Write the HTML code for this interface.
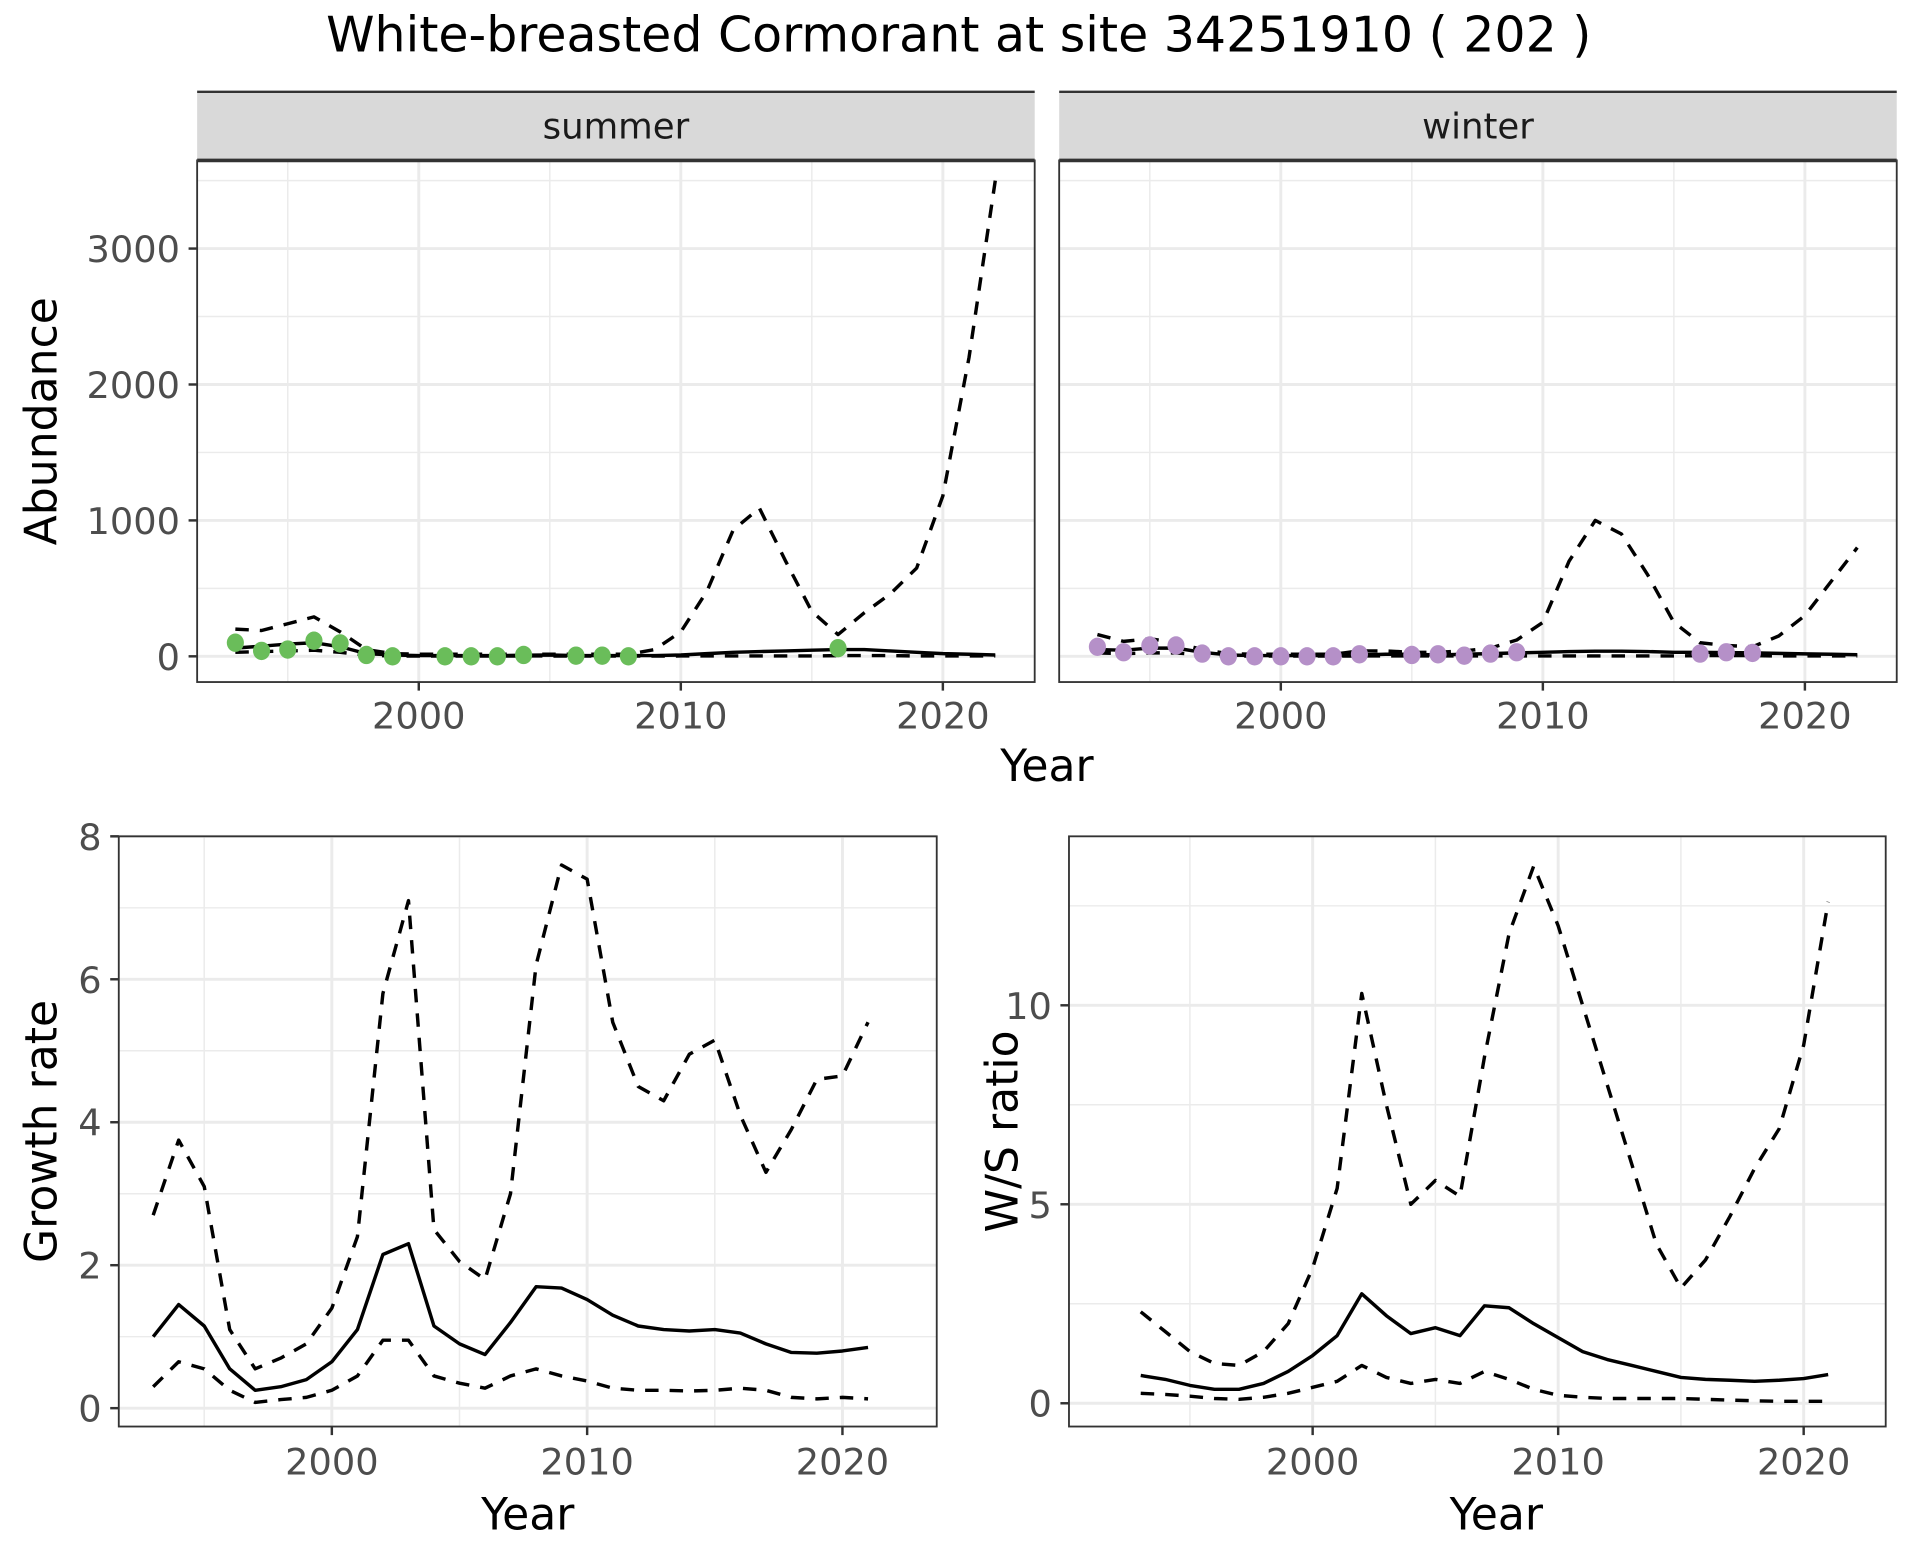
<!DOCTYPE html>
<html><head><meta charset="utf-8"><style>
html,body{margin:0;padding:0;background:#fff;}
svg{display:block;font-family:"DejaVu Sans","Liberation Sans",sans-serif;}
</style></head><body>
<svg id="chart" width="1920" height="1560" viewBox="0 0 1568 1274" xmlns="http://www.w3.org/2000/svg">
<text x="783" y="42" font-size="40" text-anchor="middle" fill="#000">White-breasted Cormorant at site 34251910 ( 202 )</text>
<g id="g"></g>
</svg>
<script>
// ---- data ----
const yearsFull = [1993,1994,1995,1996,1997,1998,1999,2000,2001,2002,2003,2004,2005,2006,2007,2008,2009,2010,2011,2012,2013,2014,2015,2016,2017,2018,2019,2020,2021,2022];
const summerUpper = [200,190,240,290,180,50,20,15,15,15,15,15,15,15,15,15,50,180,480,930,1090,700,330,160,320,460,650,1180,2200,3500];
const summerMean  = [60,75,90,100,70,20,10,5,5,5,5,8,10,5,5,5,5,10,20,30,35,40,45,50,50,40,30,20,15,10];
const summerLower = [30,35,40,45,30,8,3,2,2,2,2,3,3,2,2,2,2,3,3,3,3,3,3,5,5,5,3,3,3,3];
const summerPtYears = [1993,1994,1995,1996,1997,1998,1999,2001,2002,2003,2004,2006,2007,2008,2016];
const summerPtVals  = [100,40,50,115,95,10,0,0,0,0,10,5,5,0,60];
const winterUpper = [160,110,130,100,50,20,15,15,15,15,40,40,30,30,40,60,120,250,700,1000,900,600,250,100,80,70,150,300,550,800];
const winterMean  = [50,45,60,60,30,10,5,5,5,5,10,15,15,10,15,20,25,30,35,38,38,35,30,30,28,25,22,18,15,12];
const winterLower = [25,20,25,25,10,3,2,2,2,2,3,3,3,3,3,3,3,3,3,3,3,3,3,5,5,5,3,3,3,3];
const winterPtYears = [1993,1994,1995,1996,1997,1998,1999,2000,2001,2002,2003,2005,2006,2007,2008,2009,2016,2017,2018];
const winterPtVals  = [70,30,80,80,20,0,0,0,0,0,15,10,15,5,20,30,20,30,25];
const years2 = [1993,1994,1995,1996,1997,1998,1999,2000,2001,2002,2003,2004,2005,2006,2007,2008,2009,2010,2011,2012,2013,2014,2015,2016,2017,2018,2019,2020,2021];
const growthMean  = [1.0,1.45,1.15,0.55,0.25,0.3,0.4,0.65,1.1,2.15,2.3,1.15,0.9,0.75,1.2,1.7,1.68,1.52,1.3,1.15,1.1,1.08,1.1,1.05,0.9,0.78,0.77,0.8,0.85];
const growthUpper = [2.7,3.75,3.1,1.1,0.55,0.7,0.9,1.4,2.4,5.8,7.1,2.5,2.05,1.8,3.0,6.2,7.6,7.4,5.4,4.5,4.3,4.95,5.15,4.1,3.3,3.9,4.6,4.65,5.4];
const growthLower = [0.3,0.65,0.55,0.25,0.08,0.12,0.15,0.25,0.45,0.95,0.95,0.45,0.35,0.28,0.45,0.55,0.45,0.38,0.28,0.25,0.25,0.24,0.25,0.28,0.25,0.15,0.13,0.15,0.13];
const ratioMean  = [0.7,0.6,0.45,0.35,0.35,0.5,0.8,1.2,1.7,2.75,2.2,1.75,1.9,1.7,2.45,2.4,2.0,1.65,1.3,1.1,0.95,0.8,0.65,0.6,0.58,0.55,0.58,0.62,0.72];
const ratioUpper = [2.3,1.8,1.3,1.0,0.95,1.3,2.0,3.4,5.4,10.3,7.5,5.0,5.6,5.2,8.7,11.8,13.5,12.0,10.0,8.0,6.0,4.0,2.9,3.6,4.7,5.9,6.9,9.0,12.6];
const ratioLower = [0.25,0.22,0.18,0.12,0.1,0.15,0.25,0.4,0.55,0.95,0.65,0.5,0.6,0.5,0.8,0.6,0.35,0.2,0.15,0.12,0.12,0.12,0.12,0.1,0.08,0.06,0.05,0.05,0.05];
const xTicks = [2000,2010,2020];
const xMinor = [1995,2005,2015];
const abundTicks = [0,1000,2000,3000];
const abundMinor = [500,1500,2500,3500];
const growthTicks = [0,2,4,6,8];
const growthMinor = [1,3,5,7];
const ratioTicks = [0,5,10];
const ratioMinor = [2.5,7.5,12.5];

const NS="http://www.w3.org/2000/svg";
const G=document.getElementById('g');
function el(tag,attrs,parent,text){const e=document.createElementNS(NS,tag);for(const k in attrs)e.setAttribute(k,attrs[k]);if(text!==undefined)e.textContent=text;(parent||G).appendChild(e);return e;}

function panel(p){
  const g=el('g',{});
  
  
  const sx=v=>p.x0+(v-p.xa)/(p.xb-p.xa)*(p.x1-p.x0);
  const sy=v=>p.y0-(v-p.ya)/(p.yb-p.ya)*(p.y0-p.y1);
  const L=p.L,R=p.R,T=p.T,B=p.B;
  el('rect',{x:L,y:T,width:R-L,height:B-T,fill:'#fff'},g);
  p.xMinor.forEach(v=>el('line',{x1:sx(v),x2:sx(v),y1:T,y2:B,stroke:'#ebebeb','stroke-width':1.2},g));
  p.yMinor.forEach(v=>{const y=sy(v);if(y>T&&y<B)el('line',{x1:L,x2:R,y1:y,y2:y,stroke:'#ebebeb','stroke-width':1.2},g);});
  p.xTicks.forEach(v=>el('line',{x1:sx(v),x2:sx(v),y1:T,y2:B,stroke:'#ebebeb','stroke-width':2.4},g));
  p.yTicks.forEach(v=>el('line',{x1:L,x2:R,y1:sy(v),y2:sy(v),stroke:'#ebebeb','stroke-width':2.4},g));
  const line=(xs,ys,dash,nm)=>{const d=xs.map((x,i)=>(i?'L':'M')+sx(x).toFixed(1)+','+sy(ys[i]).toFixed(1)).join('');
    const e=el('path',{d:d,fill:'none',stroke:'#000','stroke-width':2.8,'stroke-dasharray':dash?'11,9':'none','stroke-linejoin':'round'},g);
    
    };
  line(p.xs,p.upper,true,'upper-bound-line');
  line(p.xs,p.lower,true,'lower-bound-line');
  line(p.xs,p.mean,false,'mean-line');
  if(p.pts){p.pts[0].forEach((x,i)=>{const c=el('ellipse',{cx:sx(x),cy:sy(p.pts[1][i]),rx:7,ry:7.5,fill:p.ptColor},g);
    
    });}
  el('rect',{x:L,y:T,width:R-L,height:B-T,fill:'none',stroke:'#333','stroke-width':1.5},g);
  if(p.strip){el('rect',{x:L,y:T-56,width:R-L,height:56,fill:'#d9d9d9'},g);
    el('line',{x1:L,x2:R,y1:T-56,y2:T-56,stroke:'#333','stroke-width':2},g);
    el('line',{x1:L,x2:R,y1:T,y2:T,stroke:'#333','stroke-width':3},g);
    const s=el('text',{x:(L+R)/2,y:T-18,'font-size':29,'text-anchor':'middle',fill:'#1a1a1a'},g,p.strip);
    
    }
  p.xTicks.forEach(v=>{el('line',{x1:sx(v),x2:sx(v),y1:B,y2:B+7,stroke:'#333','stroke-width':2},g);
    const t=el('text',{x:sx(v),y:B+p.xLabOff,'font-size':30,'text-anchor':'middle',fill:'#4d4d4d'},g,String(v));
    
    });
  if(p.yLabels){p.yTicks.forEach(v=>{el('line',{x1:L-7,x2:L,y1:sy(v),y2:sy(v),stroke:'#333','stroke-width':2},g);
    const t=el('text',{x:L-14,y:sy(v)+11,'font-size':30,'text-anchor':'end',fill:'#4d4d4d'},g,String(v));
    
    });}
  if(p.xTitle){const t=el('text',{x:p.xTitleX,y:p.xTitleY,'font-size':36,'text-anchor':'middle',fill:'#000'},g,p.xTitle);
    
    }
  if(p.yTitle){const t=el('text',{x:0,y:0,'font-size':36,'text-anchor':'middle',fill:'#000',transform:`translate(${p.yTitleX},${(T+B)/2}) rotate(-90)`},g,p.yTitle);
    
    }
}
// top panels
panel({name:'summer-panel',L:161,R:845,T:131,B:557,x0:342,x1:770,xa:2000,xb:2020,y0:536,y1:203,ya:0,yb:3000,
  xTicks,xMinor,yTicks:abundTicks,yMinor:abundMinor,xs:yearsFull,upper:summerUpper,mean:summerMean,lower:summerLower,
  pts:[summerPtYears,summerPtVals],ptColor:'#6abd5a',strip:'summer',yLabels:true,yTitle:'Abundance',yTitleX:46,xLabOff:38});
panel({name:'winter-panel',L:865,R:1549,T:131,B:557,x0:1046,x1:1474,xa:2000,xb:2020,y0:536,y1:203,ya:0,yb:3000,
  xTicks,xMinor,yTicks:abundTicks,yMinor:abundMinor,xs:yearsFull,upper:winterUpper,mean:winterMean,lower:winterLower,
  pts:[winterPtYears,winterPtVals],ptColor:'#b590c8',strip:'winter',yLabels:false,xLabOff:38});
const xt=el('text',{x:855,y:638,'font-size':36,'text-anchor':'middle',fill:'#000'},G,'Year');


// bottom panels
panel({name:'growth-rate-panel',L:97,R:765,T:683,B:1165,x0:271,x1:688,xa:2000,xb:2020,y0:1150,y1:683,ya:0,yb:8,
  xTicks,xMinor,yTicks:growthTicks,yMinor:growthMinor,xs:years2,upper:growthUpper,mean:growthMean,lower:growthLower,
  yLabels:true,yTitle:'Growth rate',yTitleX:46,xTitle:'Year',xTitleX:431,xTitleY:1249,xLabOff:39});
panel({name:'ws-ratio-panel',L:873,R:1540,T:683,B:1165,x0:1072,x1:1473,xa:2000,xb:2020,y0:1146,y1:821,ya:0,yb:10,
  xTicks,xMinor,yTicks:ratioTicks,yMinor:ratioMinor,xs:years2,upper:ratioUpper,mean:ratioMean,lower:ratioLower,
  yLabels:true,yTitle:'W/S ratio',yTitleX:831,xTitle:'Year',xTitleX:1222,xTitleY:1249,xLabOff:39});
</script>
</body></html>
